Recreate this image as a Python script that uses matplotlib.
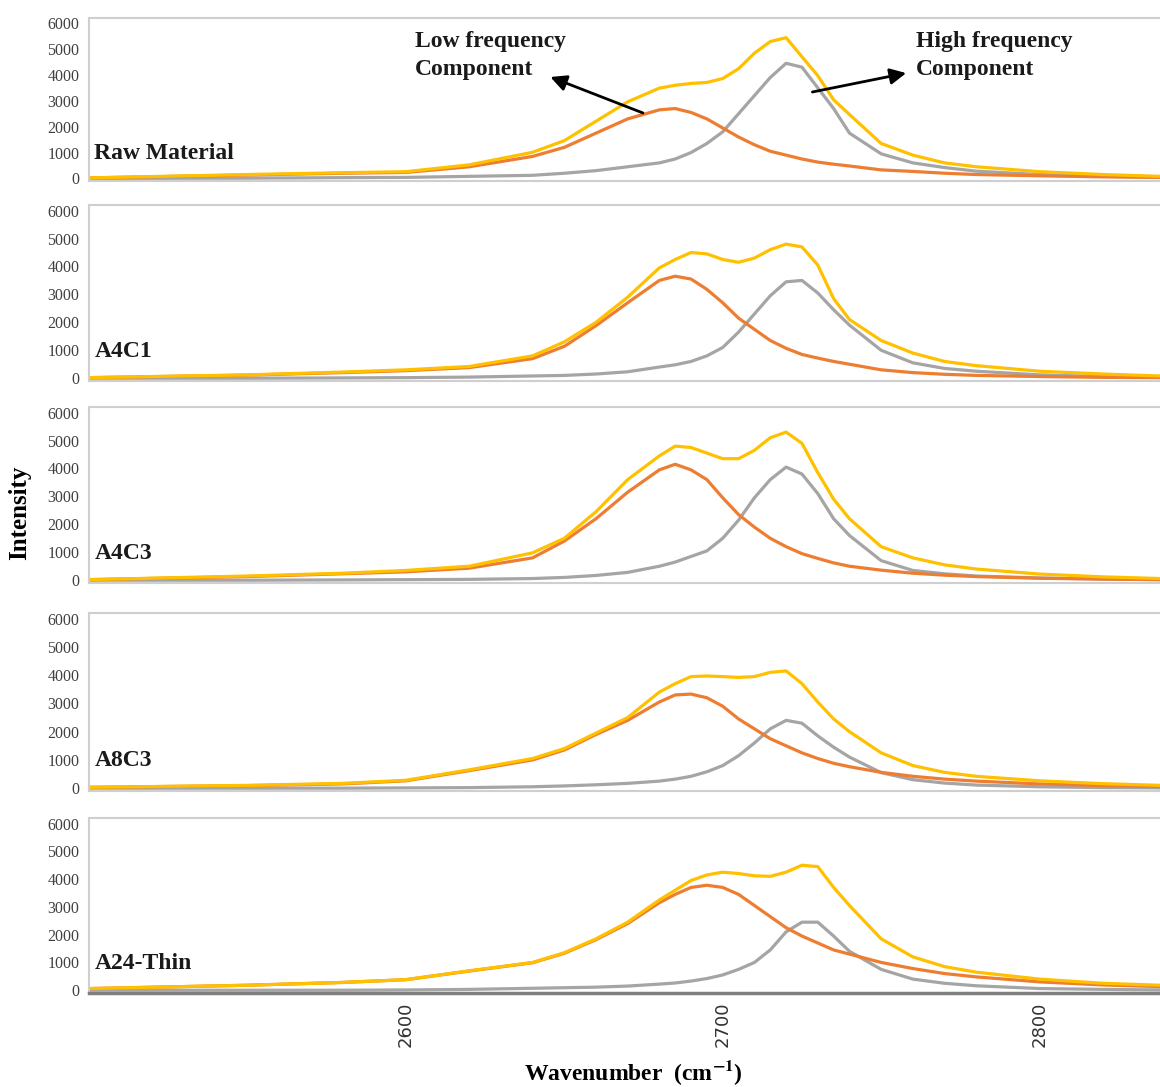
import numpy as np
import matplotlib.pyplot as plt

plt.rcParams['mathtext.fontset'] = 'stix'

# wavenumber grid (cm-1) the values were read at
wn = [2500, 2550, 2580, 2600, 2620, 2640, 2650, 2660, 2670, 2680, 2685, 2690, 2695,
      2700, 2705, 2710, 2715, 2720, 2725, 2730, 2735, 2740, 2750, 2760, 2770, 2780,
      2800, 2820, 2838]

samples = ["Raw Material", "A4C1", "A4C3", "A8C3", "A24-Thin"]

# low frequency component (orange)
low_raw = [20, 130, 200, 230, 450, 850, 1200, 1750, 2300, 2650, 2700, 2550, 2300,
           1950, 1600, 1300, 1050, 900, 750, 630, 550, 480, 330, 270, 200, 150, 100, 60, 40]
low_a4c1 = [20, 110, 200, 270, 380, 700, 1140, 1880, 2700, 3500, 3650, 3550, 3180,
            2700, 2150, 1750, 1350, 1070, 850, 720, 600, 500, 300, 200, 140, 100, 60, 30, 20]
low_a4c3 = [20, 130, 230, 300, 430, 800, 1400, 2200, 3150, 3950, 4150, 3950, 3600,
            2950, 2350, 1900, 1500, 1200, 950, 780, 620, 500, 360, 250, 180, 130, 70, 40, 20]
low_a8c3 = [30, 90, 150, 260, 620, 1000, 1350, 1900, 2400, 3050, 3300, 3330, 3200,
            2900, 2450, 2100, 1750, 1500, 1250, 1050, 880, 760, 560, 420, 320, 250, 150, 90, 60]
low_a24 = [60, 180, 280, 380, 690, 990, 1330, 1820, 2400, 3150, 3450, 3700, 3780,
           3700, 3450, 3050, 2650, 2250, 1950, 1700, 1450, 1300, 1000, 780, 600, 480, 300, 190, 130]

# high frequency component (grey)
high_raw = [0, 10, 30, 40, 80, 120, 200, 300, 450, 600, 750, 1000, 1350,
            1800, 2500, 3200, 3900, 4450, 4300, 3500, 2700, 1750, 950, 600, 420, 280, 150, 80, 50]
high_a4c1 = [0, 0, 10, 20, 40, 80, 100, 150, 230, 400, 480, 600, 800,
             1100, 1650, 2300, 2950, 3450, 3500, 3050, 2450, 1900, 1000, 550, 350, 250, 120, 60, 30]
high_a4c3 = [0, 0, 10, 20, 30, 60, 100, 170, 280, 500, 650, 850, 1050,
             1500, 2150, 2950, 3600, 4050, 3800, 3100, 2200, 1600, 700, 350, 230, 150, 80, 40, 20]
high_a8c3 = [0, 0, 0, 10, 20, 50, 80, 120, 170, 250, 320, 420, 580,
             800, 1150, 1600, 2100, 2400, 2300, 1850, 1450, 1100, 550, 300, 180, 110, 50, 20, 10]
high_a24 = [0, 0, 0, 10, 30, 70, 90, 110, 150, 220, 260, 330, 420,
            550, 750, 1000, 1450, 2100, 2450, 2450, 1950, 1400, 750, 400, 250, 160, 60, 30, 10]

# measured spectrum (yellow)
sum_raw = [20, 150, 220, 260, 525, 1010, 1460, 2210, 2960, 3490, 3600, 3670, 3710,
           3860, 4240, 4840, 5290, 5440, 4700, 3970, 3040, 2470, 1350, 900, 600, 450, 260, 150, 80]
sum_a4c1 = [20, 120, 220, 300, 420, 800, 1300, 2000, 2900, 3950, 4250, 4500, 4450,
            4250, 4150, 4300, 4600, 4800, 4700, 4050, 2850, 2100, 1350, 900, 600, 450, 250, 150, 80]
sum_a4c3 = [20, 150, 250, 350, 500, 980, 1500, 2450, 3600, 4450, 4800, 4750, 4550,
            4350, 4350, 4650, 5100, 5300, 4900, 3850, 2900, 2200, 1200, 800, 550, 400, 220, 120, 60]
sum_a8c3 = [30, 100, 170, 280, 650, 1050, 1400, 1950, 2500, 3400, 3700, 3950, 3970,
            3950, 3920, 3950, 4100, 4150, 3700, 3050, 2450, 2000, 1250, 800, 560, 420, 260, 160, 100]
sum_a24 = [60, 180, 280, 380, 700, 1000, 1350, 1850, 2450, 3250, 3600, 3950, 4150,
           4250, 4200, 4120, 4100, 4250, 4500, 4450, 3700, 3050, 1850, 1200, 850, 650, 400, 250, 180]

lows = [low_raw, low_a4c1, low_a4c3, low_a8c3, low_a24]
highs = [high_raw, high_a4c1, high_a4c3, high_a8c3, high_a24]
sums = [sum_raw, sum_a4c1, sum_a4c3, sum_a8c3, sum_a24]

# panel (top, bottom) in pixels from top of the 1160x1087 image
panel_px = [(18, 181), (205, 381), (407, 583), (613, 791), (818, 993)]

W, H = 1160, 1087
fig = plt.figure(figsize=(W / 100, H / 100), dpi=100)
serif = "Liberation Serif"

axes = []
for i, (top, bot) in enumerate(panel_px):
    ax = fig.add_axes([89 / W, 1 - bot / H, 1 - 89 / W, (bot - top) / H])
    ax.plot(wn, highs[i], color="#A5A5A5", lw=2.3)
    ax.plot(wn, lows[i], color="#ED7D31", lw=2.3)
    ax.plot(wn, sums[i], color="#FFC000", lw=2.3)
    ax.set_xlim(2500, 2838)
    ax.set_ylim(-100, 6200)
    ax.set_yticks(range(0, 7000, 1000))
    ax.tick_params(axis="y", length=0, pad=7, labelsize=11.5, labelcolor="#404040")
    for lab in ax.get_yticklabels():
        lab.set_family(serif)
    ax.spines["right"].set_visible(False)
    for s in ["top", "left", "bottom"]:
        ax.spines[s].set_color("#CFCFCF")
        ax.spines[s].set_linewidth(1.5)
    ax.text(0.005, 0.17, samples[i], transform=ax.transAxes, family=serif,
            fontweight="bold", fontsize=17, ha="left", va="center", color="#1a1a1a")
    if i < 4:
        ax.set_xticks([])
    else:
        ax.set_xticks([2600, 2700, 2800])
        ax.tick_params(axis="x", length=0, pad=6, labelsize=13, labelrotation=90,
                       labelcolor="#333333")
        ax.spines["bottom"].set_color("#7F7F7F")
        ax.spines["bottom"].set_linewidth(2.5)
    axes.append(ax)

ax0 = axes[0]
ax0.text(2603, 4750, "Low frequency\nComponent", family=serif, fontweight="bold",
         fontsize=17, ha="left", va="center", color="#1a1a1a", linespacing=1.4)
ax0.text(2761, 4750, "High frequency\nComponent", family=serif, fontweight="bold",
         fontsize=17, ha="left", va="center", color="#1a1a1a", linespacing=1.4)
arrow = dict(arrowstyle="-|>", color="black", lw=2, mutation_scale=24,
             shrinkA=0, shrinkB=0)
ax0.annotate("", xy=(2645.6, 3920), xytext=(2674.8, 2530), arrowprops=arrow,
             annotation_clip=False)
ax0.annotate("", xy=(2757.9, 4070), xytext=(2728.3, 3340), arrowprops=arrow,
             annotation_clip=False)

fig.text(633 / W, 1 - 1073 / H, "Wavenumber  (cm$^{\\mathbf{-1}}$)", family=serif,
         fontweight="bold", fontsize=17, ha="center", va="center")
fig.text(20 / W, 1 - 513 / H, "Intensity", family=serif, fontweight="bold",
         fontsize=18, rotation=90, ha="center", va="center")

fig.savefig("out.png", dpi=100)
